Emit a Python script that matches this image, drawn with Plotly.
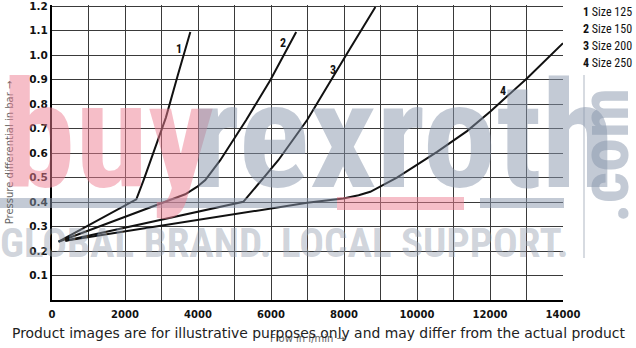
import plotly.graph_objects as go

# ---- data ----
flow_1 = [180, 2310, 2510, 2700, 3120, 3450, 3790]
dp_1 = [0.238, 0.411, 0.490, 0.570, 0.745, 0.920, 1.095]

flow_2 = [180, 2970, 3650, 3970, 4200, 4610, 5320, 5980, 6690]
dp_2 = [0.238, 0.392, 0.432, 0.462, 0.490, 0.571, 0.735, 0.898, 1.095]

flow_3 = [365, 4060, 5240, 5790, 6200, 6990, 7640, 8080, 8860]
dp_3 = [0.242, 0.362, 0.401, 0.498, 0.571, 0.735, 0.898, 1.006, 1.197]

flow_4 = [365, 4060, 6990, 7980, 8400, 8720, 9050, 9450, 9910, 10550, 11370, 12010, 13010, 14000]
dp_4 = [0.242, 0.329, 0.397, 0.415, 0.428, 0.442, 0.468, 0.500, 0.544, 0.605, 0.690, 0.770, 0.905, 1.049]

curve_ids = ["1", "2", "3", "4"]
curve_sizes = ["Size 125", "Size 150", "Size 200", "Size 250"]
label_flow = [3490, 6330, 7690, 12360]
label_dp = [1.027, 1.048, 0.939, 0.853]

x_ticks = [0, 2000, 4000, 6000, 8000, 10000, 12000, 14000]
x_ticktext = ["0", "2000", "4000", "6000", "8000", "10000", "12000", "14000"]
y_ticks = [0.1, 0.2, 0.3, 0.4, 0.5, 0.6, 0.7, 0.8, 0.9, 1.0, 1.1, 1.2]
y_ticktext = ["0.1", "0.2", "0.3", "0.4", "0.5", "0.6", "0.7", "0.8", "0.9", "1.0", "1.1", "1.2"]

x_title = "Flow in l/min →"
y_title = "Pressure differential in bar →"
disclaimer = "Product images are for illustrative purposes only and may differ from the actual product"

# ---- figure ----
W, H = 636, 348
L, R, T, B = 52, 73, 5, 48
PW, PH = W - L - R, H - T - B

def px(xp):
    return (xp - L) / PW

def py(yp):
    return (H - B - yp) / PH

fig = go.Figure()
series = [(flow_1, dp_1), (flow_2, dp_2), (flow_3, dp_3), (flow_4, dp_4)]
for (fx, fy), cid, sz in zip(series, curve_ids, curve_sizes):
    fig.add_trace(go.Scatter(x=fx, y=fy, mode="lines", name=cid + " " + sz,
                             line=dict(color="#111111", width=2), showlegend=False))

grid = "#3a3a3a"
fig.update_xaxes(range=[0, 14000], tickmode="array", tickvals=x_ticks, ticktext=x_ticktext,
                 showgrid=True, gridcolor=grid, gridwidth=1,
                 minor=dict(dtick=1000, tick0=0, showgrid=True, gridcolor=grid, gridwidth=1),
                 showline=True, linecolor="#000", linewidth=2, zeroline=False, ticks="",
                 ticklabelstandoff=4, ticklabeloverflow="allow",
                 tickfont=dict(family="DejaVu Sans", size=10, color="#111", weight="bold"),
                 title=dict(text=x_title, font=dict(family="DejaVu Sans", size=10, color="#666"), standoff=16))
fig.update_yaxes(range=[0, 1.205], tickmode="array", tickvals=y_ticks, ticktext=y_ticktext,
                 showgrid=True, gridcolor=grid, gridwidth=1,
                 showline=True, linecolor="#000", linewidth=2, zeroline=False, ticks="",
                 ticklabeloverflow="allow",
                 tickfont=dict(family="DejaVu Sans", size=10.5, color="#111", weight="bold"),
                 title=dict(text=y_title, font=dict(family="DejaVu Sans", size=10, color="#666"), standoff=14))

ann = []
# curve labels
for cid, lx, ly in zip(curve_ids, label_flow, label_dp):
    ann.append(dict(x=lx, y=ly, xref="x", yref="y", text="<b>" + cid + "</b>", showarrow=False,
                    font=dict(family="Liberation Sans Narrow, Roboto Condensed, Roboto", size=12, color="#111")))
# legend text
for i, (cid, sz) in enumerate(zip(curve_ids, curve_sizes)):
    ann.append(dict(x=px(581), y=py(12 + 17 * i), xref="paper", yref="paper", xanchor="left", yanchor="middle",
                    text="<b>" + cid + "</b> " + sz, showarrow=False,
                    font=dict(family="Liberation Sans Narrow, Roboto Condensed, Roboto", size=12, color="#111")))

# watermark
pink = "rgba(237,125,145,0.5)"
slate = "rgba(135,150,172,0.5)"
wm_font = "Liberation Sans Narrow, Roboto Condensed, DejaVu Sans Condensed, Roboto"
ann.append(dict(x=px(0), y=py(136), xref="paper", yref="paper", xanchor="left", yanchor="middle",
                text="<b>buy</b>", showarrow=False, font=dict(family=wm_font, size=148, color=pink)))
ann.append(dict(x=px(189), y=py(136), xref="paper", yref="paper", xanchor="left", yanchor="middle",
                text="<b>rexroth</b>", showarrow=False, font=dict(family=wm_font, size=148, color=slate)))
ann.append(dict(x=px(605), y=py(156), xref="paper", yref="paper", xanchor="center", yanchor="middle",
                text="<b>.com</b>", textangle=-90, showarrow=False, font=dict(family=wm_font, size=68, color=slate)))
ann.append(dict(x=px(-2), y=py(243), xref="paper", yref="paper", xanchor="left", yanchor="middle",
                text="<b>GLOBAL BRAND. LOCAL SUPPORT.</b>", showarrow=False,
                font=dict(family=wm_font, size=41, color="rgba(150,160,175,0.45)")))
# disclaimer
ann.append(dict(x=px(318), y=py(333), xref="paper", yref="paper", xanchor="center", yanchor="middle",
                text=disclaimer, showarrow=False, font=dict(family="DejaVu Sans", size=13.9, color="#222")))

shapes = [
    dict(type="rect", xref="paper", yref="paper", x0=px(0), x1=px(337), y0=py(208), y1=py(198),
         fillcolor=slate, line=dict(width=0)),
    dict(type="rect", xref="paper", yref="paper", x0=px(480), x1=px(564), y0=py(208), y1=py(198),
         fillcolor=slate, line=dict(width=0)),
    dict(type="rect", xref="paper", yref="paper", x0=px(337), x1=px(464), y0=py(210), y1=py(197),
         fillcolor=pink, line=dict(width=0)),
    dict(type="line", xref="paper", yref="paper", x0=px(584), x1=px(584), y0=py(75), y1=py(258),
         line=dict(color="rgba(150,160,175,0.5)", width=1.5)),
]

fig.update_layout(width=W, height=H, margin=dict(l=L, r=R, t=T, b=B, autoexpand=False),
                  paper_bgcolor="white", plot_bgcolor="white", annotations=ann, shapes=shapes,
                  showlegend=False)
fig.write_html("out.html")
